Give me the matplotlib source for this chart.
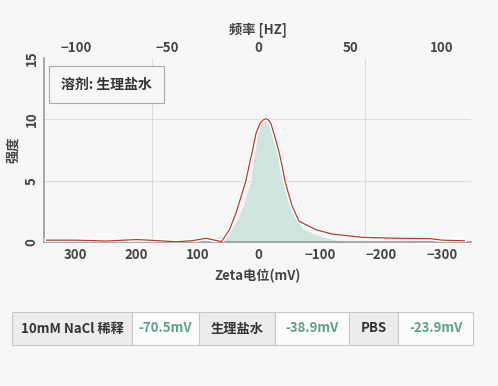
import numpy as np
import matplotlib
matplotlib.use('Agg')
from matplotlib import pyplot as plt
from matplotlib import patheffects as pe

plt.rcParams['font.family'] = ['Noto Sans CJK SC', 'DejaVu Sans']

# 拟合曲线（红线）
zeta_fit = [348, 300, 250, 200, 170, 135, 110, 86, 61, 48, 37, 27, 21, 15, 10, 4.6, -2, -7, -11.8,
            -16, -20, -25, -32.5, -38, -43, -49, -55, -66, -80, -94, -120, -170, -230, -280, -301, -337]
intensity_fit = [0.15, 0.15, 0.08, 0.2, 0.12, 0.02, 0.1, 0.3, 0.03, 1.0, 2.4, 4.0, 5.0, 6.4, 7.5,
                 8.83, 9.65, 9.95, 10.05, 9.95, 9.65, 8.83, 7.5, 6.3, 5.0, 3.9, 2.9, 1.7, 1.35, 1.0,
                 0.65, 0.38, 0.3, 0.28, 0.15, 0.1]

# 实测分布（填充）
zeta_meas = [100, 85, 70, 48, 35, 24, 13, 6, 1, -5, -10, -11.8, -13.5, -17, -22.6, -29, -36, -45,
             -55, -72, -94, -110, -127, -150]
intensity_meas = [0.0, 0.15, 0.38, 0.85, 1.8, 3.2, 5.0, 7.5, 8.83, 9.9, 10.35, 10.45, 10.35, 9.9,
                  8.83, 7.5, 5.5, 3.9, 2.35, 1.1, 0.57, 0.33, 0.15, 0.0]

# 下方表格
table_cells = ['10mM NaCl 稀释', '-70.5mV', '生理盐水', '-38.9mV', 'PBS', '-23.9mV']
col_widths = [120, 67, 76, 74, 49, 75]

bg = '#f7f7f7'
text_c = '#444444'

fig = plt.figure(figsize=(4.98, 3.86), dpi=100, facecolor=bg)
ax = fig.add_axes([44 / 498, 1 - 242 / 386, 427 / 498, 184 / 386])
ax.set_facecolor(bg)

ax.fill_between(zeta_meas, intensity_meas, color='#cfe3df', lw=0, zorder=2)
ax.plot(zeta_fit, intensity_fit, color='#c0392b', lw=0.9, zorder=3,
        path_effects=[pe.Stroke(linewidth=3, foreground='white'), pe.Normal()])

ax.set_xlim(352, -348)
ax.set_ylim(0, 15)
ax.set_xticks([300, 200, 100, 0, -100, -200, -300])
ax.set_yticks([0, 5, 10, 15])
ax.set_xticks([175, 0, -175], minor=True)
ax.grid(axis='y', color='#dddddd', lw=0.8)
ax.grid(axis='x', which='minor', color='#dddddd', lw=0.8)
ax.yaxis.get_gridlines()[-1].set_visible(False)
ax.yaxis.get_gridlines()[0].set_visible(False)
ax.tick_params(axis='x', which='both', length=0)
ax.tick_params(axis='x', labelsize=9.5, labelcolor=text_c, pad=4)
ax.tick_params(axis='y', length=0, labelsize=9.5, labelcolor=text_c, pad=4)
for lab in ax.get_xticklabels() + ax.get_yticklabels():
    lab.set_fontweight('bold')
for lab in ax.get_yticklabels():
    lab.set_rotation(90)
    lab.set_va('center')
for s in ['top', 'right']:
    ax.spines[s].set_visible(False)
for s in ['left', 'bottom']:
    ax.spines[s].set_color('#999999')
    ax.spines[s].set_linewidth(1.2)

ax.set_xlabel('Zeta电位(mV)', fontsize=9.5, color=text_c, fontweight='bold', labelpad=5)
ax.set_ylabel('强度', fontsize=9.5, color=text_c, fontweight='bold')
ax.yaxis.set_label_coords(-24 / 427, 0.5)

top = ax.secondary_xaxis('top', functions=(lambda v: -v / 3.0, lambda v: -v * 3.0))
top.set_xticks([-100, -50, 0, 50, 100])
top.tick_params(length=0, labelsize=9.5, labelcolor=text_c, pad=2)
for lab in top.get_xticklabels():
    lab.set_fontweight('bold')
top.spines['top'].set_visible(False)
top.set_xlabel('频率 [HZ]', fontsize=9.5, color=text_c, fontweight='bold', labelpad=6)

ax.text(17 / 427, 0.855, '溶剂: 生理盐水', transform=ax.transAxes, fontsize=10, color='#333333',
        fontweight='bold', va='center', ha='left', zorder=5,
        bbox=dict(boxstyle='square,pad=0.85', fc=bg, ec='#aaaaaa', lw=0.8))

# 表格
tax = fig.add_axes([12 / 498, 1 - 345 / 386, 461 / 498, 33 / 386])
tax.axis('off')
tbl = tax.table(cellText=[table_cells], colWidths=[w / sum(col_widths) for w in col_widths],
                loc='center', bbox=[0, 0, 1, 1], cellLoc='center')
tbl.auto_set_font_size(False)
for i in range(len(table_cells)):
    cell = tbl[0, i]
    cell.set_edgecolor('#c8c8c8')
    cell.set_linewidth(0.8)
    if i % 2 == 0:
        cell.set_facecolor('#ececec')
        cell.get_text().set_color('#333333')
    else:
        cell.set_facecolor('#fbfbfb')
        cell.get_text().set_color('#5aa48c')
    cell.get_text().set_fontsize(9.5)
    cell.get_text().set_fontweight('bold')

fig.savefig('out.png', dpi=100, facecolor=bg)
